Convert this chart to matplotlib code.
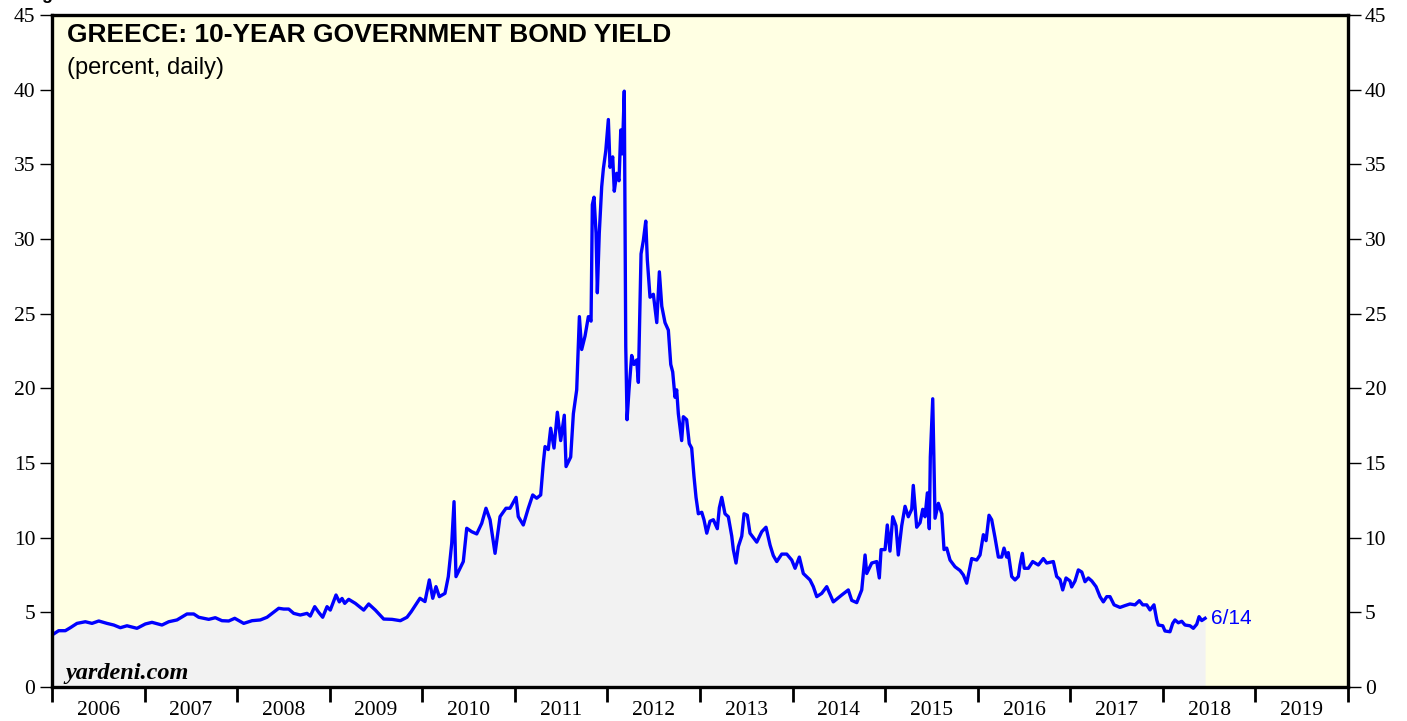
import numpy as np
import matplotlib.pyplot as plt
from matplotlib.ticker import FixedLocator, NullFormatter

# Greece 10-year government bond yield (decimal year, percent)
dates = [
    2006.000, 2006.072, 2006.144, 2006.198, 2006.270, 2006.360, 2006.432, 2006.505,
    2006.594, 2006.667, 2006.738, 2006.810, 2006.918, 2007.008, 2007.080, 2007.188,
    2007.261, 2007.350, 2007.458, 2007.531, 2007.585, 2007.693, 2007.764, 2007.836,
    2007.909, 2007.974, 2008.071, 2008.161, 2008.250, 2008.323, 2008.449, 2008.503,
    2008.557, 2008.611, 2008.682, 2008.755, 2008.790, 2008.838, 2008.881, 2008.924,
    2008.971, 2009.006, 2009.068, 2009.104, 2009.133, 2009.162, 2009.205, 2009.277,
    2009.367, 2009.421, 2009.493, 2009.583, 2009.673, 2009.763, 2009.835, 2009.881,
    2009.975, 2010.029, 2010.076, 2010.113, 2010.148, 2010.184, 2010.245, 2010.281,
    2010.318, 2010.343, 2010.364, 2010.408, 2010.443, 2010.480, 2010.534, 2010.588,
    2010.642, 2010.688, 2010.732, 2010.786, 2010.840, 2010.904, 2010.948, 2011.013,
    2011.037, 2011.091, 2011.145, 2011.193, 2011.236, 2011.279, 2011.307, 2011.326,
    2011.361, 2011.387, 2011.423, 2011.459, 2011.495, 2011.534, 2011.553, 2011.603,
    2011.632, 2011.668, 2011.697, 2011.722, 2011.758, 2011.794, 2011.823, 2011.837,
    2011.855, 2011.877, 2011.891, 2011.912, 2011.938, 2011.956, 2011.982, 2012.010,
    2012.028, 2012.057, 2012.074, 2012.100, 2012.125, 2012.144, 2012.161, 2012.182,
    2012.198, 2012.212, 2012.233, 2012.262, 2012.287, 2012.316, 2012.334, 2012.363,
    2012.388, 2012.414, 2012.431, 2012.460, 2012.496, 2012.533, 2012.561, 2012.587,
    2012.622, 2012.658, 2012.684, 2012.705, 2012.730, 2012.748, 2012.766, 2012.802,
    2012.820, 2012.856, 2012.884, 2012.910, 2012.935, 2012.957, 2012.982, 2013.019,
    2013.043, 2013.073, 2013.108, 2013.144, 2013.187, 2013.209, 2013.235, 2013.270,
    2013.306, 2013.343, 2013.360, 2013.389, 2013.414, 2013.451, 2013.476, 2013.511,
    2013.540, 2013.613, 2013.667, 2013.713, 2013.757, 2013.792, 2013.829, 2013.883,
    2013.937, 2013.991, 2014.027, 2014.073, 2014.116, 2014.188, 2014.224, 2014.261,
    2014.315, 2014.369, 2014.440, 2014.531, 2014.602, 2014.639, 2014.693, 2014.747,
    2014.783, 2014.801, 2014.855, 2014.909, 2014.937, 2014.956, 2014.999, 2015.023,
    2015.052, 2015.082, 2015.117, 2015.142, 2015.179, 2015.215, 2015.250, 2015.287,
    2015.304, 2015.341, 2015.377, 2015.406, 2015.431, 2015.456, 2015.477, 2015.488,
    2015.514, 2015.539, 2015.575, 2015.612, 2015.636, 2015.665, 2015.701, 2015.755,
    2015.809, 2015.845, 2015.881, 2015.935, 2015.989, 2016.025, 2016.061, 2016.090,
    2016.122, 2016.151, 2016.187, 2016.223, 2016.259, 2016.284, 2016.313, 2016.330,
    2016.367, 2016.403, 2016.439, 2016.457, 2016.482, 2016.503, 2016.547, 2016.594,
    2016.655, 2016.709, 2016.745, 2016.817, 2016.853, 2016.889, 2016.918, 2016.954,
    2016.997, 2017.015, 2017.051, 2017.087, 2017.124, 2017.159, 2017.195, 2017.232,
    2017.278, 2017.321, 2017.357, 2017.394, 2017.429, 2017.473, 2017.537, 2017.591,
    2017.645, 2017.699, 2017.746, 2017.783, 2017.826, 2017.861, 2017.904, 2017.934,
    2017.951, 2017.999, 2018.023, 2018.077, 2018.106, 2018.131, 2018.167, 2018.204,
    2018.239, 2018.293, 2018.329, 2018.366, 2018.391, 2018.420, 2018.456,
]
yields = [
    3.48, 3.77, 3.77, 3.97, 4.26, 4.37, 4.26, 4.42,
    4.26, 4.15, 3.97, 4.10, 3.93, 4.22, 4.33, 4.15,
    4.37, 4.49, 4.89, 4.89, 4.67, 4.53, 4.64, 4.44,
    4.42, 4.60, 4.26, 4.44, 4.49, 4.67, 5.27, 5.22,
    5.22, 4.93, 4.82, 4.93, 4.75, 5.38, 5.00, 4.67,
    5.38, 5.15, 6.16, 5.70, 5.93, 5.60, 5.87, 5.60,
    5.15, 5.56, 5.15, 4.55, 4.53, 4.44, 4.67, 5.05,
    5.94, 5.72, 7.17, 5.94, 6.72, 6.05, 6.27, 7.39,
    9.62, 12.41, 7.39, 7.95, 8.40, 10.63, 10.40, 10.25,
    10.96, 11.97, 11.20, 8.95, 11.41, 11.97, 11.97, 12.70,
    11.41, 10.85, 11.97, 12.86, 12.64, 12.86, 14.98, 16.10,
    15.90, 17.33, 16.00, 18.40, 16.50, 18.20, 14.76, 15.40,
    18.30, 19.90, 24.80, 22.60, 23.50, 24.80, 24.50, 32.30,
    32.80, 30.40, 26.40, 30.40, 33.50, 34.70, 35.90, 38.00,
    34.80, 35.50, 33.20, 34.40, 33.90, 37.30, 35.70, 39.90,
    22.80, 17.90, 19.90, 22.20, 21.60, 21.90, 20.40, 29.00,
    29.90, 31.20, 28.60, 26.10, 26.30, 24.40, 27.80, 25.50,
    24.40, 23.90, 21.60, 21.10, 19.40, 19.90, 18.30, 16.50,
    18.10, 17.90, 16.30, 16.00, 14.10, 12.70, 11.60, 11.70,
    11.20, 10.30, 11.10, 11.20, 10.60, 12.00, 12.70, 11.60,
    11.40, 10.10, 9.20, 8.30, 9.40, 10.10, 11.60, 11.50,
    10.30, 9.70, 10.40, 10.70, 9.50, 8.80, 8.40, 8.90,
    8.90, 8.50, 7.95, 8.70, 7.60, 7.17, 6.72, 6.05,
    6.27, 6.72, 5.70, 6.16, 6.50, 5.80, 5.65, 6.50,
    8.84, 7.60, 8.30, 8.40, 7.30, 9.20, 9.20, 10.85,
    9.10, 11.40, 10.80, 8.84, 10.80, 12.10, 11.40, 11.90,
    13.50, 10.70, 11.00, 11.90, 11.40, 13.00, 10.60, 15.40,
    19.30, 11.30, 12.30, 11.60, 9.20, 9.30, 8.50, 8.05,
    7.80, 7.50, 6.95, 8.60, 8.50, 8.84, 10.20, 9.80,
    11.50, 11.20, 10.00, 8.70, 8.70, 9.30, 8.70, 9.00,
    7.40, 7.17, 7.40, 8.17, 8.95, 7.95, 7.95, 8.40,
    8.17, 8.60, 8.30, 8.40, 7.40, 7.20, 6.50, 7.30,
    7.10, 6.70, 7.10, 7.84, 7.70, 7.05, 7.30, 7.10,
    6.72, 6.05, 5.70, 6.05, 6.05, 5.50, 5.33, 5.45,
    5.56, 5.50, 5.78, 5.50, 5.50, 5.16, 5.50, 4.49,
    4.15, 4.10, 3.75, 3.70, 4.26, 4.49, 4.30, 4.40,
    4.15, 4.10, 3.93, 4.20, 4.71, 4.45, 4.60,
]
years = list(range(2006, 2020))
last_label = "6/14"

serif = ["Liberation Serif", "DejaVu Serif"]
sans = ["Liberation Sans", "DejaVu Sans"]

fig = plt.figure(figsize=(14.07, 7.21), dpi=100)
ax = fig.add_axes([0.03696, 0.04716, 0.92111, 0.93204])
ax.set_facecolor("#FFFFE3")

x = np.array(dates)
y = np.array(yields)
ax.fill_between(x, 0, y, color="#F2F2F2", linewidth=0, zorder=1)
ax.plot(x, y, color="#0000FF", linewidth=2.4, zorder=3, solid_joinstyle="round")

ax.set_xlim(2006, 2020)
ax.set_ylim(0, 45)

# x axis: year boundaries as ticks, labels centred in each year
ax.xaxis.set_major_locator(FixedLocator(list(range(2006, 2021))))
ax.xaxis.set_major_formatter(NullFormatter())
ax.xaxis.set_minor_locator(FixedLocator([yr + 0.5 for yr in years]))
ax.set_xticklabels([str(yr) for yr in years], minor=True)
ax.tick_params(axis="x", which="major", direction="out", length=11, width=2, color="black")
ax.tick_params(axis="x", which="minor", length=0, pad=10, labelsize=15.5)

ax.set_yticks(range(0, 46, 5))
ax.tick_params(axis="y", which="major", direction="out", length=9, width=1,
               left=True, right=True, labelleft=True, labelright=True,
               labelsize=15.5, pad=3)
for lab in ax.get_xticklabels(minor=True):
    lab.set_fontfamily(serif)
for t in ax.yaxis.get_major_ticks():
    t.label1.set_fontfamily(serif)
    t.label2.set_fontfamily(serif)

for s in ax.spines.values():
    s.set_linewidth(2.4)
    s.set_color("black")
    s.set_zorder(5)

ax.text(0.0116, 0.988, "GREECE: 10-YEAR GOVERNMENT BOND YIELD", transform=ax.transAxes,
        fontsize=19, fontweight="bold", family=sans, va="top", ha="left")
ax.text(0.0116, 0.937, "(percent, daily)", transform=ax.transAxes,
        fontsize=17, family=sans, va="top", ha="left")
ax.text(0.0100, 0.004, "yardeni.com", transform=ax.transAxes,
        fontsize=17.5, fontweight="bold", fontstyle="italic", family=serif,
        va="bottom", ha="left")
ax.annotate(last_label, xy=(dates[-1], yields[-1]), xytext=(4, 0),
            textcoords="offset points", color="#0000FF", fontsize=15,
            family=sans, va="center", ha="left")

# cut-off heading at the top edge of the image
fig.text(27 / 1407, 1.002, "Figure", fontsize=13, fontweight="bold",
         family=sans, va="baseline", ha="left")

fig.savefig("out.png", dpi=100)
